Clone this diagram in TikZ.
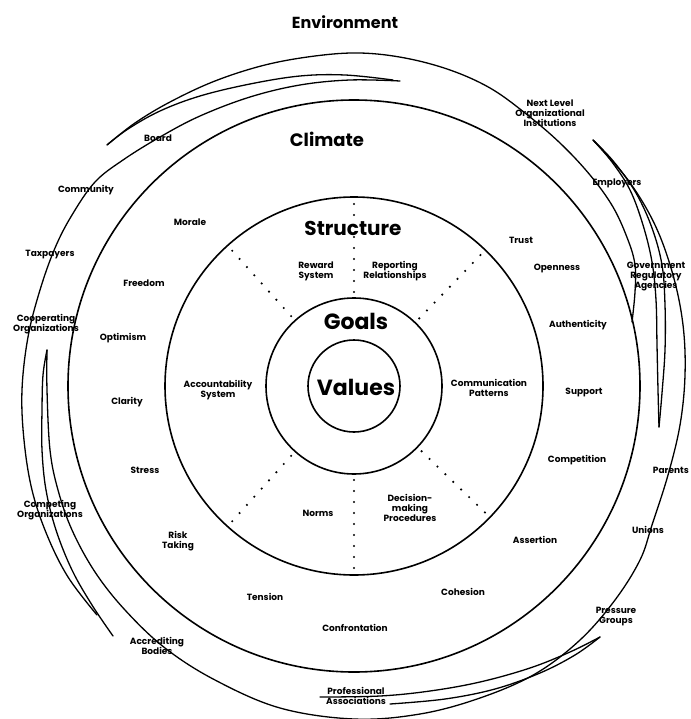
\documentclass[tikz,border=0pt]{standalone}
\usepackage{fontspec}
\setmainfont{Poppins}
\usetikzlibrary{calc}

\begin{document}
\begin{tikzpicture}[x=1pt,y=-1pt,
    ring/.style={line width=1.6pt},
    envarc/.style={line width=1.3pt, line cap=round},
    sector/.style={line width=2.4pt, line cap=round, dash pattern=on 0pt off 11pt},
    lbl/.style={font=\fontsize{9}{10}\selectfont\bfseries, align=center, inner sep=0pt},
    big/.style={font=\fontsize{18}{20}\selectfont\bfseries, inner sep=0pt}]
\useasboundingbox (0,0) rectangle (690,719);
\coordinate (O) at (354,386);

% circles
\foreach \r in {46,88,189,286}
    \draw[ring] (O) circle[radius=\r];

% structure sectors
\foreach \a in {46,90,132,228,270,316}
    \draw[sector] ($(O)+(-\a:94)$) -- ($(O)+(-\a:185)$);

% environment arcs
\draw[envarc] plot[smooth, tension=0.6] coordinates {(107,145) (135,123) (170,102) (215,81) (265,65) (315,56) (360,53) (405,58) (450,70) (490,88) (525,113) (560,143) (590,175) (613,207) (628,240) (635,265) (635,292) (632,322)};
\draw[envarc] plot[smooth, tension=0.6] coordinates {(107,145) (128,129) (160,111) (200,96) (250,84) (300,76) (345,75) (393,80)};
\draw[envarc] plot[smooth, tension=0.6] coordinates {(400,81) (350,80) (300,85) (250,97) (200,116) (160,137) (123,160) (95,182) (72,215) (55,248) (40,290) (28,337) (22,390) (24,440) (32,490) (47,535) (68,577) (97,615)};
\draw[envarc] plot[smooth, tension=0.6] coordinates {(47,350) (43,375) (42,410) (42,450) (46,490) (56,530) (72,570) (92,605) (113,636)};
\draw[envarc] plot[smooth, tension=0.6] coordinates {(47,350) (47,390) (50,450) (58,490) (72,530) (95,572) (125,610) (165,648) (215,680) (280,708) (354,719) (420,714) (480,698) (535,674) (580,640) (615,600) (640,560) (652,525) (668,475) (680,425) (685,375) (683,325) (673,275) (655,225) (628,180) (593,140)};
\draw[envarc] plot[smooth, tension=0.6] coordinates {(593,140) (612,162) (630,190) (643,225) (652,262) (656,300) (657,345) (658,390) (659,427)};
\draw[envarc] plot[smooth, tension=0.6] coordinates {(593,140) (614,162) (636,193) (652,228) (662,265) (665,305) (665,350) (662,393) (659,427)};
\draw[envarc] plot[smooth, tension=0.6] coordinates {(600,637) (570,652) (530,668) (480,682) (430,691) (380,696) (320,697)};
\draw[envarc] plot[smooth, tension=0.6] coordinates {(600,637) (575,655) (540,673) (495,689) (445,699) (390,704)};

% headings
\node[big, font=\fontsize{16}{18}\selectfont\bfseries] (env) at (345,22) {Environment};
\node[big] (clim) at (327,139) {Climate};
\node[big, font=\fontsize{20}{22}\selectfont\bfseries] (struc) at (353,228) {Structure};
\node[big, font=\fontsize{22}{24}\selectfont\bfseries] (goals) at (356,321) {Goals};
\node[big, font=\fontsize{22}{24}\selectfont\bfseries] (vals) at (356,387) {Values};

% structure
\node[lbl] (reward) at (316,271) {Reward\\System};
\node[lbl] (report) at (395,271) {Reporting\\Relationships};
\node[lbl] (account) at (218,390) {Accountability\\System};
\node[lbl] (commun) at (489,388) {Communication\\Patterns};
\node[lbl] (norms) at (318,513) {Norms};
\node[lbl] (decis) at (410,508) {Decision-\\making\\Procedures};

% climate
\node[lbl] (morale) at (190,222) {Morale};
\node[lbl] (freedom) at (144,283) {Freedom};
\node[lbl] (optim) at (123,338) {Optimism};
\node[lbl] (clarity) at (127,402) {Clarity};
\node[lbl] (stress) at (145,470) {Stress};
\node[lbl] (risk) at (178,541) {Risk\\Taking};
\node[lbl] (tension) at (265,597) {Tension};
\node[lbl] (confr) at (355,628) {Confrontation};
\node[lbl] (cohes) at (463,592) {Cohesion};
\node[lbl] (assert) at (535,540) {Assertion};
\node[lbl] (compet) at (577,460) {Competition};
\node[lbl] (support) at (584,392) {Support};
\node[lbl] (authen) at (578,325) {Authenticity};
\node[lbl] (open) at (557,268) {Openness};
\node[lbl] (trust) at (521,240) {Trust};

% environment
\node[lbl] (board) at (158,138) {Board};
\node[lbl] (commty) at (86,190) {Community};
\node[lbl] (taxp) at (50,255) {Taxpayers};
\node[lbl] (coop) at (46,324) {Cooperating\\Organizations};
\node[lbl] (compo) at (50,510) {Competing\\Organizations};
\node[lbl] (accred) at (157,646) {Accrediting\\Bodies};
\node[lbl] (prof) at (356,696) {Professional\\Associations};
\node[lbl] (press) at (616,617) {Pressure\\Groups};
\node[lbl] (unions) at (648,530) {Unions};
\node[lbl, anchor=east] (parents) at (689,470) {Parents};
\node[lbl] (govt) at (656,277) {Government\\Regulatory\\Agencies};
\node[lbl] (employ) at (617,183) {Employers};
\node[lbl] (nextlvl) at (550,113) {Next Level\\Organizational\\Institutions};
\end{tikzpicture}
\end{document}
